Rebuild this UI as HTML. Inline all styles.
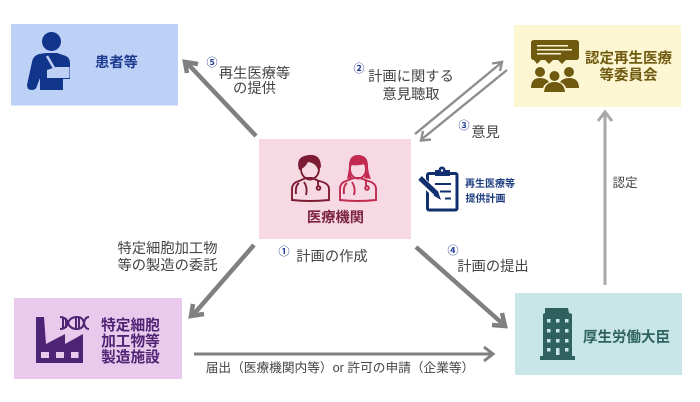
<!DOCTYPE html>
<html lang="ja"><head><meta charset="utf-8"><style>
html,body{margin:0;padding:0;background:#fff}
svg{display:block}
text{font-family:"Liberation Sans","Noto Sans CJK JP",sans-serif}
.l{font-size:14.300px;fill:#444;text-anchor:middle}
.b{font-weight:700;text-anchor:middle}
.n{font-size:11px;fill:#1f3a93;font-weight:700;text-anchor:middle}
</style></head><body>
<svg width="700" height="402" viewBox="0 0 700 402" xmlns="http://www.w3.org/2000/svg">
<rect width="700" height="402" fill="#fff"/>
<rect x="11" y="24" width="167" height="81.500" fill="#bdd0f6"/>
<rect x="514" y="25" width="167" height="82" fill="#fdf6d2"/>
<rect x="259" y="139" width="152" height="100" fill="#f6d9e3"/>
<rect x="14" y="298" width="168" height="81" fill="#e9c9ec"/>
<rect x="515" y="293" width="167" height="82" fill="#c8e6e7"/>

<!-- arrows -->
<g fill="none" stroke="#808080" stroke-width="4.500">
<path d="M256 136L187 63"/><path d="M187 73L185 62L198 64"/>
<path d="M254 245L193 315"/><path d="M193 304L191 316L204 314"/>
<path d="M416 247L503 324"/><path d="M502 313L505 326L492 325"/>
</g>
<g fill="none" stroke="#808080" stroke-width="3">
<path d="M194 354H492"/><path d="M484 347L493 354L484 361"/>
</g>
<g fill="none" stroke="#8e8e8e" stroke-width="2.400">
<path d="M415 134L501 63"/><path d="M492 63.500L502 62L500 71"/>
<path d="M507 70L422 139"/><path d="M431 139.500L421 140.500L423 131"/>
</g>
<g fill="none" stroke="#a8a8a8" stroke-width="3">
<path d="M605 285V113"/><path d="M598 121L605 112L612 121"/>
</g>

<!-- patient icon -->
<g fill="#12358c">
<circle cx="51.500" cy="41.500" r="9.500"/>
<path d="M39 54Q33 56 32 62L27 85Q27 90 32 90Q36 90 37 86L40 78V90H63V79H70V62Q69 56 63 55L57 53H46Z"/>
</g>
<path d="M47 56L54 68" stroke="#bdd0f6" stroke-width="2.500" fill="none"/>
<path d="M47 70L56 67H69.500L69.500 78H47Z" fill="#bdd0f6"/>
<text class="b" x="116.500" y="67" font-size="14.300" fill="#1d3c90">患者等</text>

<!-- committee icon -->
<g fill="#6f5a10">
<path d="M534 40H576Q579 40 579 43V57Q579 60 576 60H566L562 64L558 60H553L549 64L545 60H541L537 64L534 60Q531 60 531 57V43Q531 40 534 40Z"/>
<circle cx="540" cy="72" r="5"/><circle cx="554.500" cy="76" r="5"/><circle cx="569" cy="72" r="5"/>
<path d="M531 88Q531 78 540 78Q546 78 549 82Q544 84 543 88Z"/>
<path d="M579 88Q579 78 569 78Q563 78 560 82Q565 84 566 88Z"/>
<path d="M544 92Q545 82 554.500 82Q564 82 565 92Z"/>
</g>
<g fill="#fdf6d2"><rect x="537" y="45" width="31" height="1.500"/><rect x="537" y="49" width="35" height="1.500"/><rect x="537" y="53" width="24" height="1.500"/></g>
<text class="b" x="628.500" y="63" font-size="14.500" fill="#6f5a10">認定再生医療</text>
<text class="b" x="628.500" y="80" font-size="14.500" fill="#6f5a10">等委員会</text>

<!-- doctors -->
<g fill="none" stroke="#7c1c34" stroke-width="1.900">
<path d="M292 200V189Q292 183 299 181L306 178H312L319 181Q329 183 329 189V200Q310 202 292 200Z"/>
<ellipse cx="310" cy="169" rx="9" ry="10.500"/>
<path d="M299 183Q295 186 296 194M304 182Q308 188 306 195M318 181V186"/>
<circle cx="318.500" cy="188" r="1.800"/>
</g>
<path d="M299 170Q295 156 309 155Q321 154 321 167L318 170Q316 163 308 162Q305 168 299 170Z" fill="#7c1c34"/>
<g fill="none" stroke="#c22a4f" stroke-width="1.900">
<path d="M340 200V189Q340 183 346 181L354 178H360L368 181Q376 183 376 189V200Q358 202 340 200Z"/>
<ellipse cx="358" cy="169" rx="8" ry="9.500"/>
<path d="M347 183Q343 186 344 194M352 182Q356 188 354 195M366 181V186"/>
<circle cx="367" cy="188" r="1.800"/>
</g>
<path d="M347 179Q349 170 349 166Q349 155 358 155Q368 155 368 166Q368 172 371 179L364 178Q368 170 365 164Q358 166 351 165Q349 172 352 178Z" fill="#c22a4f"/>
<text class="b" x="335.500" y="222" font-size="14.300" fill="#7c2440">医療機関</text>

<!-- plan icon -->
<rect x="427.500" y="173.500" width="29.500" height="36.500" rx="1.500" fill="none" stroke="#12306f" stroke-width="3"/>
<rect x="435" y="170" width="15" height="6" fill="#12306f"/><circle cx="442" cy="170" r="3.500" fill="#12306f"/>
<circle cx="442" cy="170.500" r="1.200" fill="#fff"/>
<g stroke="#12306f" stroke-width="1.900"><path d="M435 184H451M440 191.500H451M445 198.500H451"/></g>
<path d="M419 178L440 198" stroke="#fff" stroke-width="8"/>
<path d="M420 178L437 194" stroke="#12306f" stroke-width="5"/>
<path d="M433.500 195.500L441 200L438 191.500Z" fill="#12306f"/>
<text class="b" x="490" y="187" font-size="10" fill="#1d3c80">再生医療等</text>
<text class="b" x="485.500" y="202" font-size="10" fill="#1d3c80">提供計画</text>

<!-- factory -->
<path d="M36 363V317H44L46 344L65 334V344L83 334V363Z" fill="#4f2474"/>
<g fill="#e9c9ec"><rect x="41" y="352" width="8" height="6"/><rect x="56" y="352" width="8" height="6"/><rect x="71" y="352" width="7.500" height="6"/></g>
<g fill="none" stroke="#4f2474" stroke-width="2">
<path d="M60 317Q66 317 68 323T77 329Q83 329 84 323T89 317"/>
<path d="M60 329Q66 329 68 323T77 317Q83 317 84 323T89 329"/>
<path d="M63 317V329M66 318V328M76 318V328M79 318V328"/>
</g>
<text class="b" x="130.500" y="330" font-size="14.700" fill="#4f2474">特定細胞</text>
<text class="b" x="130.500" y="346" font-size="14.700" fill="#4f2474">加工物等</text>
<text class="b" x="130.500" y="362" font-size="14.700" fill="#4f2474">製造施設</text>

<!-- building -->
<path d="M545 308H568L569 313L572 314V356H575V360H540V356H543V314L545 313Z" fill="#2f625f"/>
<g fill="#c8e6e7">
<rect x="547" y="319" width="3.500" height="3.500"/><rect x="556" y="319" width="3.500" height="3.500"/><rect x="565" y="319" width="3.500" height="3.500"/>
<rect x="547" y="329" width="3.500" height="3.500"/><rect x="556" y="329" width="3.500" height="3.500"/><rect x="565" y="329" width="3.500" height="3.500"/>
<rect x="547" y="339" width="3.500" height="3.500"/><rect x="556" y="339" width="3.500" height="3.500"/><rect x="565" y="339" width="3.500" height="3.500"/>
<rect x="547" y="348" width="3.500" height="3.500"/><rect x="556" y="348" width="3.500" height="7"/><rect x="565" y="348" width="3.500" height="3.500"/>
</g>
<text class="b" x="626.500" y="342" font-size="14.500" fill="#2f625f">厚生労働大臣</text>

<!-- labels -->
<text class="n" x="212" y="66">⑤</text>
<text class="l" x="254.500" y="78">再生医療等</text>
<text class="l" x="254.500" y="93">の提供</text>
<text class="n" x="359" y="72">②</text>
<text class="l" x="411" y="81">計画に関する</text>
<text class="l" x="411" y="99">意見聴取</text>
<text class="n" x="464" y="129">③</text>
<text class="l" x="485.500" y="137">意見</text>
<text class="n" x="284" y="255">①</text>
<text class="l" x="332" y="261">計画の作成</text>
<text class="n" x="453" y="254">④</text>
<text class="l" x="493" y="271">計画の提出</text>
<text class="l" x="167.500" y="253">特定細胞加工物</text>
<text class="l" x="167.500" y="270">等の製造の委託</text>
<text class="l" x="625" y="187" style="font-size:12.500px">認定</text>
<text class="l" x="340" y="372" style="font-size:12.700px">届出（医療機関内等）or 許可の申請（企業等）</text>
</svg>
</body></html>
